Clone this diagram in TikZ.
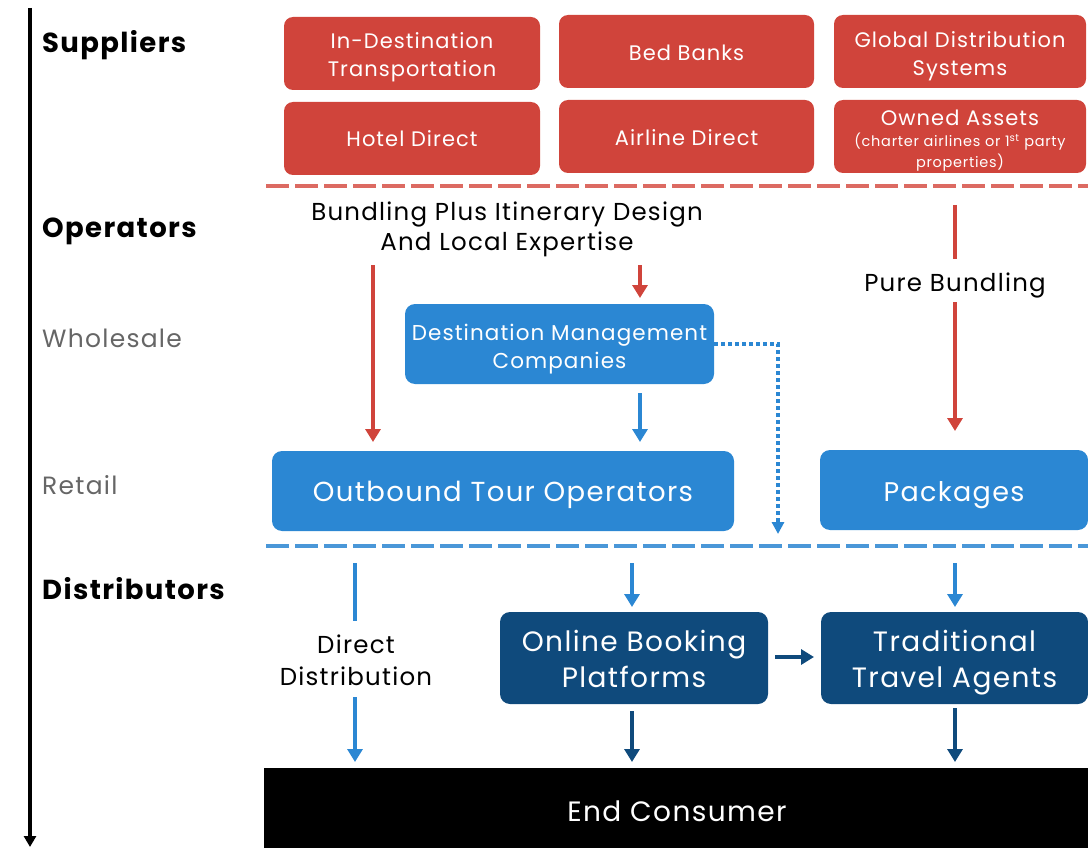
\documentclass[tikz,border=0pt]{standalone}
\usepackage{fontspec}
\setmainfont{Poppins}[LetterSpace=5]
\usetikzlibrary{arrows.meta,calc}
\definecolor{sred}{HTML}{D0443B}
\definecolor{sredl}{HTML}{DC6A62}
\definecolor{sblue}{HTML}{2B87D3}
\definecolor{sbluel}{HTML}{4A97D8}
\definecolor{sdark}{HTML}{0F4A7C}
\definecolor{sgray}{HTML}{666666}
\newcommand{\tx}[2]{\raisebox{-#1}[\height][\depth]{\begin{tabular}{@{}c@{}}#2\end{tabular}}}
\tikzset{
  redbox/.style={draw=none,fill=sred,rounded corners=9pt,text=white,align=center,inner sep=0pt,font=\fontsize{21}{28}\selectfont},
  bluebox/.style={draw=none,fill=sblue,rounded corners=10pt,text=white,align=center,inner sep=0pt},
  darkbox/.style={draw=none,fill=sdark,rounded corners=10pt,text=white,align=center,inner sep=0pt,font=\fontsize{28}{36}\selectfont},
  wtxt/.style={text=white,inner sep=0pt},
  lvl/.style={anchor=west,inner sep=0pt,font=\bfseries\fontsize{27.5}{30}\selectfont},
  sublvl/.style={anchor=west,inner sep=0pt,text=sgray,font=\fontsize{25}{28}\selectfont},
  lbl/.style={align=center,inner sep=0pt},
  rarr/.style={draw=sred,line width=3.5pt,-{Triangle[width=15pt,length=13pt]}},
  rline/.style={draw=sred,line width=3.5pt},
  barr/.style={draw=sblue,line width=3.5pt,-{Triangle[width=15pt,length=13pt]}},
  bline/.style={draw=sblue,line width=3.5pt},
  darr/.style={draw=sdark,line width=3.5pt,-{Triangle[width=15pt,length=13pt]}},
  sep/.style={line width=3.5pt,dash pattern=on 23pt off 6pt},
}
\begin{document}
\begin{tikzpicture}[x=1pt,y=-1pt]
\useasboundingbox (0,0) rectangle (1088,848);
% axis
\coordinate (axtop) at (30,8);
\coordinate (axbot) at (30,847);
\draw[line width=3.5pt,-{Triangle[width=12pt,length=11pt]}] (axtop) -- (axbot);
% level labels
\node[lvl] (lsup) at (42,45) {Suppliers};
\node[lvl] (lop) at (42,231) {Operators};
\node[sublvl] (lwh) at (42,338) {Wholesale};
\node[sublvl] (lre) at (42,485) {Retail};
\node[lvl] (ldi) at (42,589) {Distributors};
% suppliers
\node[redbox,minimum width=256pt,minimum height=73pt] (idt) at (412,53.5) {\tx{3.5pt}{In-Destination\\Transportation}};
\node[redbox,minimum width=255pt,minimum height=73pt] (bb) at (686.5,51.5) {\tx{3.3pt}{Bed Banks}};
\node[redbox,minimum width=252pt,minimum height=73pt] (gds) at (960,51.5) {\tx{4.2pt}{Global Distribution\\Systems}};
\node[redbox,minimum width=256pt,minimum height=73pt] (hd) at (412,138.5) {\tx{2.5pt}{Hotel Direct}};
\node[redbox,minimum width=255pt,minimum height=73pt] (ad) at (686.5,136.5) {\tx{3.3pt}{Airline Direct}};
\node[redbox,minimum width=252pt,minimum height=73pt] (oa) at (960,136.5) {};
\node[wtxt,font=\fontsize{21}{28}\selectfont] (oa1) at ($(oa.center)+(0,-18.5)$) {Owned Assets};
\node[wtxt,font=\fontsize{14.5}{17}\selectfont] (oa2) at ($(oa.center)+(0,5)$) {(charter airlines or 1\textsuperscript{st} party};
\node[wtxt,font=\fontsize{14.5}{17}\selectfont] (oa3) at ($(oa.center)+(0,26)$) {properties)};
% red separator
\coordinate (s1a) at (266,186);
\coordinate (s1b) at (1088,186);
\draw[sep,draw=sredl] (s1a) -- (s1b);
% operators
\node[lbl,font=\fontsize{24.5}{30}\selectfont] (bund) at (507,229) {Bundling Plus Itinerary Design\\And Local Expertise};
\node[bluebox,minimum width=309pt,minimum height=80pt,font=\fontsize{21.5}{28}\selectfont] (dmc) at (559.5,344) {\tx{4.5pt}{Destination Management\\Companies}};
\node[bluebox,minimum width=462pt,minimum height=80pt,font=\fontsize{27.5}{30}\selectfont] (oto) at (503,491) {\tx{4.5pt}{Outbound Tour Operators}};
\node[bluebox,minimum width=268pt,minimum height=80pt,font=\fontsize{27}{30}\selectfont] (pkg) at (954,490) {\tx{5pt}{Packages}};
\node[lbl,font=\fontsize{24.5}{28}\selectfont] (pure) at (955,285) {Pure Bundling};
% red arrows
\coordinate (r1s) at (373,265);
\coordinate (r1e) at (373,442);
\draw[rarr] (r1s) -- (r1e);
\coordinate (r2s) at (640,265);
\coordinate (r2e) at (640,298);
\draw[rarr] (r2s) -- (r2e);
\coordinate (r3s) at (955,205);
\coordinate (r3e) at (955,259);
\draw[rline] (r3s) -- (r3e);
\coordinate (r4s) at (955,302);
\coordinate (r4e) at (955,431);
\draw[rarr] (r4s) -- (r4e);
% blue arrows operators
\coordinate (b1s) at (640,393);
\coordinate (b1e) at (640,442);
\draw[barr] (b1s) -- (b1e);
\coordinate (dotc) at (778,344);
\coordinate (dote) at (778,534);
\draw[draw=sblue,line width=4pt,dash pattern=on 4pt off 3pt,-{Triangle[width=12pt,length=12pt]}] (dmc.east) -- (dotc) -- (dote);
% blue separator
\coordinate (s2a) at (266,546);
\coordinate (s2b) at (1088,546);
\draw[sep,draw=sbluel] (s2a) -- (s2b);
% distributors
\node[darkbox,minimum width=268pt,minimum height=92pt] (obp) at (634,658) {\tx{3.8pt}{Online Booking\\Platforms}};
\node[darkbox,minimum width=267pt,minimum height=92pt] (tta) at (954.5,658) {\tx{4.3pt}{Traditional\\Travel Agents}};
\node[lbl,font=\fontsize{24.5}{32}\selectfont] (dd) at (356,660) {Direct\\Distribution};
\node[draw=none,fill=black,text=white,inner sep=0pt,minimum width=826pt,minimum height=84pt,font=\fontsize{28}{32}\selectfont] (ec) at (677,810) {\tx{5.5pt}{End Consumer}};
% distributor arrows
\coordinate (d1s) at (355,563);
\coordinate (d1e) at (355,621);
\draw[bline] (d1s) -- (d1e);
\coordinate (d2s) at (355,697);
\coordinate (d2e) at (355,762);
\draw[barr] (d2s) -- (d2e);
\coordinate (d3s) at (632,563);
\coordinate (d3e) at (632,607);
\draw[barr] (d3s) -- (d3e);
\coordinate (d4s) at (955,563);
\coordinate (d4e) at (955,607);
\draw[barr] (d4s) -- (d4e);
\coordinate (d5s) at (775,657);
\coordinate (d5e) at (814,657);
\draw[darr] (d5s) -- (d5e);
\coordinate (d6s) at (632,711);
\coordinate (d6e) at (632,762);
\draw[darr] (d6s) -- (d6e);
\coordinate (d7s) at (955,708);
\coordinate (d7e) at (955,762);
\draw[darr] (d7s) -- (d7e);
\end{tikzpicture}
\end{document}
